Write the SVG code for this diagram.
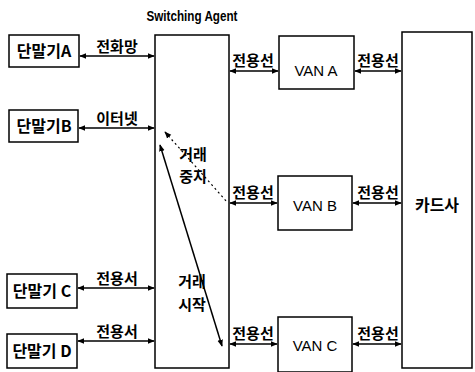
<svg xmlns="http://www.w3.org/2000/svg" width="475" height="372" viewBox="0 0 475 372">
<defs>
<style>
.box{fill:#fff;stroke:#000;stroke-width:1.5}
.ln{stroke:#000;stroke-width:1.5;fill:none}
.dot{stroke:#000;stroke-width:1.2;fill:none;stroke-dasharray:2 3}
.t{font-family:"Liberation Sans","Noto Sans CJK KR",sans-serif;font-size:15px;fill:#000;text-anchor:middle}
.k{font-family:"Noto Sans CJK KR",sans-serif;font-size:15px;font-weight:bold;fill:#000;text-anchor:middle}
.n{font-family:"Noto Sans CJK KR",sans-serif;font-size:16px;font-weight:bold;fill:#000;text-anchor:middle}
.title{font-family:"Liberation Sans",sans-serif;font-size:15px;font-weight:bold;fill:#000;text-anchor:middle}
</style>
<marker id="ah" viewBox="0 0 10 10" refX="9" refY="5" markerWidth="7" markerHeight="7" orient="auto-start-reverse" markerUnits="userSpaceOnUse">
<path d="M0,1 L10,5 L0,9 Z" fill="#000"/>
</marker>
</defs>
<rect width="475" height="372" fill="#fff"/>
<text class="title" x="192" y="21" textLength="91" lengthAdjust="spacingAndGlyphs">Switching Agent</text>

<g id="switching-agent"><rect class="box" x="155" y="35" width="74" height="333"/></g>
<g id="terminal-a"><rect class="box" x="9" y="35" width="70" height="32"/><text class="n" x="44" y="57">단말기A</text></g>
<g id="terminal-b"><rect class="box" x="9" y="110" width="69" height="32"/><text class="n" x="44" y="132">단말기B</text></g>
<g id="terminal-c"><rect class="box" x="7" y="274" width="70" height="34"/><text class="n" x="42" y="297">단말기 C</text></g>
<g id="terminal-d"><rect class="box" x="7" y="334" width="70" height="34"/><text class="n" x="42" y="357">단말기 D</text></g>
<g id="van-a"><rect class="box" x="279" y="36" width="75" height="53"/><text class="t" x="316" y="76">VAN A</text></g>
<g id="van-b"><rect class="box" x="278" y="176" width="74" height="54"/><text class="t" x="315" y="211">VAN B</text></g>
<g id="van-c"><rect class="box" x="278" y="317" width="74" height="55"/><text class="t" x="315" y="351">VAN C</text></g>
<g id="card-company"><rect class="box" x="402" y="32" width="70" height="336"/><text class="n" x="437" y="211">카드사</text></g>

<g id="connectors">
<line class="ln" x1="80" y1="56" x2="154" y2="56" marker-start="url(#ah)" marker-end="url(#ah)"/>
<line class="ln" x1="79" y1="128" x2="154" y2="128" marker-start="url(#ah)" marker-end="url(#ah)"/>
<line class="ln" x1="78" y1="288" x2="154" y2="288" marker-start="url(#ah)" marker-end="url(#ah)"/>
<line class="ln" x1="78" y1="341" x2="154" y2="341" marker-start="url(#ah)" marker-end="url(#ah)"/>
<line class="ln" x1="230" y1="71" x2="278" y2="71" marker-start="url(#ah)" marker-end="url(#ah)"/>
<line class="ln" x1="355" y1="71" x2="401" y2="71" marker-start="url(#ah)" marker-end="url(#ah)"/>
<line class="ln" x1="230" y1="203" x2="277" y2="203" marker-start="url(#ah)" marker-end="url(#ah)"/>
<line class="ln" x1="353" y1="203" x2="401" y2="203" marker-start="url(#ah)" marker-end="url(#ah)"/>
<line class="ln" x1="230" y1="344" x2="277" y2="344" marker-start="url(#ah)" marker-end="url(#ah)"/>
<line class="ln" x1="353" y1="344" x2="401" y2="344" marker-start="url(#ah)" marker-end="url(#ah)"/>
<line class="ln" x1="160" y1="145" x2="222" y2="346" marker-start="url(#ah)" marker-end="url(#ah)"/>
<line class="dot" x1="165" y1="132" x2="227" y2="202" marker-start="url(#ah)"/>
<text class="k" x="117" y="52">전화망</text>
<text class="k" x="117" y="124">이터넷</text>
<text class="k" x="117" y="284">전용서</text>
<text class="k" x="117" y="337">전용서</text>
<text class="k" x="253" y="66">전용선</text>
<text class="k" x="378" y="66">전용선</text>
<text class="k" x="253" y="198">전용선</text>
<text class="k" x="378" y="198">전용선</text>
<text class="k" x="253" y="339">전용선</text>
<text class="k" x="378" y="339">전용선</text>
<text class="k" x="193" y="160">거래</text>
<text class="k" x="193" y="182">중지</text>
<text class="k" x="192" y="287">거래</text>
<text class="k" x="192" y="310">시작</text>
</g>
</svg>
